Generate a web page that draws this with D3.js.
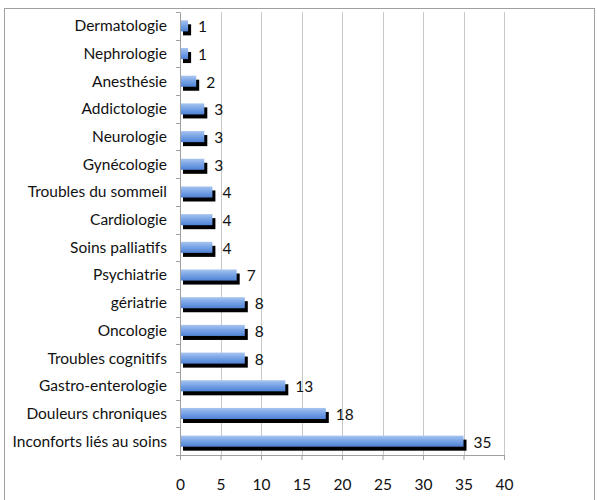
<!DOCTYPE html>
<html>
<head>
<meta charset="utf-8">
<script src="https://cdn.jsdelivr.net/npm/d3@7"></script>
<style>
  body { margin: 0; background: #fff; }
  text { font-family: Lato, "Open Sans", sans-serif; fill: #111; }
</style>
</head>
<body>
<div class="canvas"></div>
<script>
// data, top to bottom as in the chart
const categories = [
  "Dermatologie", "Nephrologie", "Anesthésie", "Addictologie", "Neurologie",
  "Gynécologie", "Troubles du sommeil", "Cardiologie", "Soins palliatifs",
  "Psychiatrie", "gériatrie", "Oncologie", "Troubles cognitifs",
  "Gastro-enterologie", "Douleurs chroniques", "Inconforts liés au soins"
];
const counts = [1, 1, 2, 3, 3, 3, 4, 4, 4, 7, 8, 8, 8, 13, 18, 35];
const xTicks = [0, 5, 10, 15, 20, 25, 30, 35, 40];

const data = categories.map((name, i) => ({ name, count: counts[i] }));

const fontSize = 15.5;

const svg = d3.select('.canvas')
  .append('svg')
    .attr('width', 597)
    .attr('height', 500);

// outer frame
svg.append('rect')
  .attr('x', 4.5).attr('y', 8.5)
  .attr('width', 590).attr('height', 520)
  .attr('fill', 'none')
  .attr('stroke', '#a0a0a0');

const margin = { top: 12, left: 180 };
const graphWidth = 324;
const graphHeight = 443;

const defs = svg.append('defs');
const grad = defs.append('linearGradient')
  .attr('id', 'barGrad')
  .attr('x1', 0).attr('y1', 0).attr('x2', 0).attr('y2', 1);
grad.append('stop').attr('offset', '0%').attr('stop-color', '#a8c5ef');
grad.append('stop').attr('offset', '45%').attr('stop-color', '#7aa5e6');
grad.append('stop').attr('offset', '100%').attr('stop-color', '#4f82d6');

const graph = svg.append('g')
  .attr('transform', `translate(${margin.left}, ${margin.top})`);

const x = d3.scaleLinear()
  .domain([0, 40])
  .range([0, graphWidth]);

const y = d3.scaleBand()
  .domain(categories)
  .range([0, graphHeight])
  .paddingInner(0.6)
  .paddingOuter(0.3);

// gridlines
graph.selectAll('line.grid')
  .data(xTicks.slice(1))
  .enter()
  .append('line')
    .attr('class', 'grid')
    .attr('x1', d => Math.round(x(d)) + 0.5)
    .attr('x2', d => Math.round(x(d)) + 0.5)
    .attr('y1', 0)
    .attr('y2', graphHeight)
    .attr('stroke', '#c8c8c8');

// bar shadows
graph.selectAll('rect.shadow')
  .data(data)
  .enter()
  .append('rect')
    .attr('class', 'shadow')
    .attr('x', 3)
    .attr('y', d => y(d.name) + 4)
    .attr('width', d => x(d.count))
    .attr('height', y.bandwidth())
    .attr('fill', '#000');

// bars
graph.selectAll('rect.bar')
  .data(data)
  .enter()
  .append('rect')
    .attr('class', 'bar')
    .attr('x', 0)
    .attr('y', d => y(d.name))
    .attr('width', d => x(d.count))
    .attr('height', y.bandwidth())
    .attr('fill', 'url(#barGrad)');

// value labels
graph.selectAll('text.val')
  .data(data)
  .enter()
  .append('text')
    .attr('class', 'val')
    .attr('x', d => x(d.count) + 10)
    .attr('y', d => y(d.name) + y.bandwidth() / 2 + 1)
    .attr('dy', '0.35em')
    .attr('font-size', fontSize)
    .text(d => d.count);

// left axis
const yAxisGroup = graph.append('g');
const yAxis = d3.axisLeft(y).tickSize(0).tickPadding(13);
yAxisGroup.call(yAxis);
yAxisGroup.select('.domain').attr('stroke', '#a0a0a0');
yAxisGroup.selectAll('text')
  .attr('font-size', fontSize)
  .attr('dy', '0.35em');

// left axis tick marks at band boundaries
graph.selectAll('line.ytick')
  .data(d3.range(categories.length + 1).map(i => i * graphHeight / categories.length))
  .enter()
  .append('line')
    .attr('class', 'ytick')
    .attr('x1', -4).attr('x2', 0)
    .attr('y1', d => Math.round(d) + 0.5)
    .attr('y2', d => Math.round(d) + 0.5)
    .attr('stroke', '#a0a0a0');

// bottom axis
const xAxisGroup = graph.append('g')
  .attr('transform', `translate(0, ${graphHeight})`);
const xAxis = d3.axisBottom(x).tickValues(xTicks).tickSize(5).tickPadding(19);
xAxisGroup.call(xAxis);
xAxisGroup.select('.domain').attr('stroke', '#a0a0a0').attr('d', `M0.5,0.5H${graphWidth + 0.5}`);
xAxisGroup.selectAll('line').attr('stroke', '#a0a0a0');
xAxisGroup.selectAll('text').attr('font-size', fontSize);
</script>
</body>
</html>
